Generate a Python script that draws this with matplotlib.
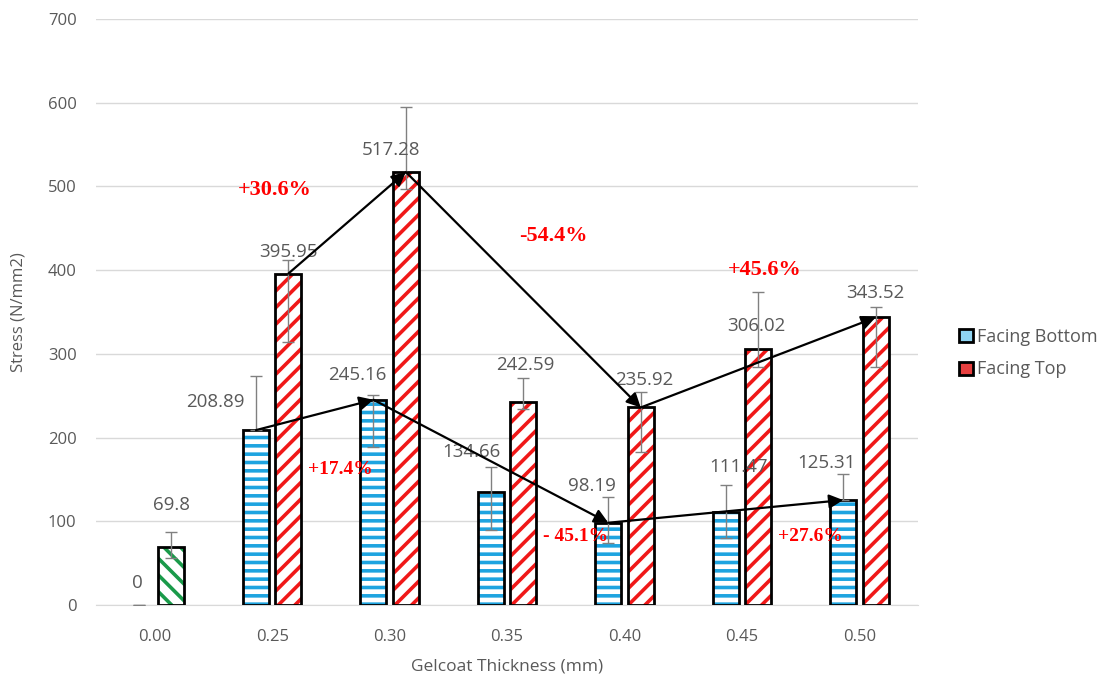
import matplotlib.pyplot as plt
from matplotlib.patches import Patch
import numpy as np

plt.rcParams['font.family'] = ['Open Sans', 'DejaVu Sans']
plt.rcParams['hatch.linewidth'] = 2.6

# data
thickness = ['0.00', '0.25', '0.30', '0.35', '0.40', '0.45', '0.50']
facing_bottom = [0, 208.89, 245.16, 134.66, 98.19, 111.47, 125.31]
facing_top = [69.8, 395.95, 517.28, 242.59, 235.92, 306.02, 343.52]
bottom_err_lo = [0, 0, 57, 45, 24, 31, 0]
bottom_err_hi = [0, 65, 6, 30, 31, 32, 31]
top_err_lo = [14, 82, 20, 8, 53, 22, 59]
top_err_hi = [17, 16, 78, 28, 19, 68, 13]

# percentage changes: (text, from index, to index)
top_changes = [('+30.6%', 1, 2), ('-54.4%', 2, 4), ('+45.6%', 4, 6)]
bottom_changes = [('+17.4%', 1, 2), ('- 45.1%', 2, 4), ('+27.6%', 4, 6)]

# label placement (pixels offset from bar top) -- layout only
bottom_lbl_off = [(-1, 22), (-41, 28), (-16, 25), (-19, 40), (-16, 37), (13, 45), (-17, 37)]
top_lbl_off = [(1, 42), (0, 22), (-15, 22), (2, 37), (4, 27), (-2, 23), (0, 24)]
# percentage text positions in data coords
top_pct_pos = [(1.02, 496), (3.39, 441), (5.19, 400)]
bottom_pct_pos = [(1.58, 162), (3.58, 82), (5.58, 82)]

BLUE = '#1ea4e0'
RED = '#f01818'
GREEN = '#1a9a4a'
GRAY = '#595959'

fig = plt.figure(figsize=(11.05, 6.82), dpi=100)
ax = fig.add_axes([0.0869, 0.113, 0.744, 0.859])

x = np.arange(len(thickness))
off = 0.138
w = 0.221

# bottom series
ax.bar(x - off, facing_bottom, w, color='white', edgecolor=BLUE, hatch='--', lw=0, zorder=2)
ax.bar(x - off, facing_bottom, w, facecolor='none', edgecolor='black',
       lw=[0 if v == 0 else 2 for v in facing_bottom], zorder=3)

# top series (first one green)
ht = ax.bar(x + off, facing_top, w, color='white', edgecolor=RED, lw=0, zorder=2)
for i, p in enumerate(ht):
    if i == 0:
        p.set_edgecolor(GREEN)
        p.set_hatch('\\\\')
    else:
        p.set_hatch('//')
ax.bar(x + off, facing_top, w, facecolor='none', edgecolor='black', lw=2, zorder=3)

ax.errorbar(x - off, facing_bottom, yerr=[bottom_err_lo, bottom_err_hi], fmt='none',
            ecolor='#808080', elinewidth=1, capsize=4, capthick=1, zorder=4)
ax.errorbar(x + off, facing_top, yerr=[top_err_lo, top_err_hi], fmt='none',
            ecolor='#808080', elinewidth=1, capsize=4, capthick=1, zorder=4)

# value labels
for i, v in enumerate(facing_bottom):
    ax.annotate(f'{v:g}', (x[i] - off, v), xytext=bottom_lbl_off[i], textcoords='offset pixels',
                ha='center', va='center', fontsize=13.5, color=GRAY, zorder=5)
for i, v in enumerate(facing_top):
    ax.annotate(f'{v:g}', (x[i] + off, v), xytext=top_lbl_off[i], textcoords='offset pixels',
                ha='center', va='center', fontsize=13.5, color=GRAY, zorder=5)

# arrows between bars
arrow_kw = dict(arrowstyle='-|>,head_length=0.6,head_width=0.3', color='black', lw=1.6,
                shrinkA=0, shrinkB=0, mutation_scale=14)
for (txt, a, b), pos in zip(top_changes, top_pct_pos):
    ax.annotate('', xy=(x[b] + off, facing_top[b]), xytext=(x[a] + off, facing_top[a]),
                arrowprops=arrow_kw, zorder=6)
    ax.text(pos[0], pos[1], txt, ha='center', va='center', color='red', fontsize=16,
            fontweight='bold', family='Liberation Serif', zorder=7)
for (txt, a, b), pos in zip(bottom_changes, bottom_pct_pos):
    ax.annotate('', xy=(x[b] - off, facing_bottom[b]), xytext=(x[a] - off, facing_bottom[a]),
                arrowprops=arrow_kw, zorder=6)
    ax.text(pos[0], pos[1], txt, ha='center', va='center', color='red', fontsize=14,
            fontweight='bold', family='Liberation Serif', zorder=7)

ax.set_xlim(-0.5, len(thickness) - 0.5)
ax.set_ylim(0, 700)
ax.set_yticks(range(0, 701, 100))
ax.set_xticks(x)
ax.set_xticklabels(thickness)
ax.tick_params(length=0, labelsize=12, labelcolor=GRAY)
ax.tick_params(axis='y', pad=14)
ax.tick_params(axis='x', pad=17)
ax.yaxis.grid(True, color='#d9d9d9', lw=1)
ax.set_axisbelow(True)
for s in ['top', 'right', 'left']:
    ax.spines[s].set_visible(False)
ax.spines['bottom'].set_color('#d9d9d9')

ax.set_ylabel('Stress (N/mm2)', fontsize=12, color=GRAY, labelpad=15)
ax.set_xlabel('Gelcoat Thickness (mm)', fontsize=12.5, color=GRAY, labelpad=10)

handles = [Patch(facecolor='#8fd4f2', edgecolor='black', lw=2),
           Patch(facecolor='#e84040', edgecolor='black', lw=2)]
ax.legend(handles, ['Facing Bottom', 'Facing Top'], loc='center left',
          bbox_to_anchor=(0.860, 0.482), bbox_transform=fig.transFigure, frameon=False,
          handlelength=0.75, handleheight=0.75, handletextpad=0.25, labelspacing=0.8,
          borderpad=0, fontsize=13, labelcolor=GRAY)

fig.savefig('out.png', dpi=100)
